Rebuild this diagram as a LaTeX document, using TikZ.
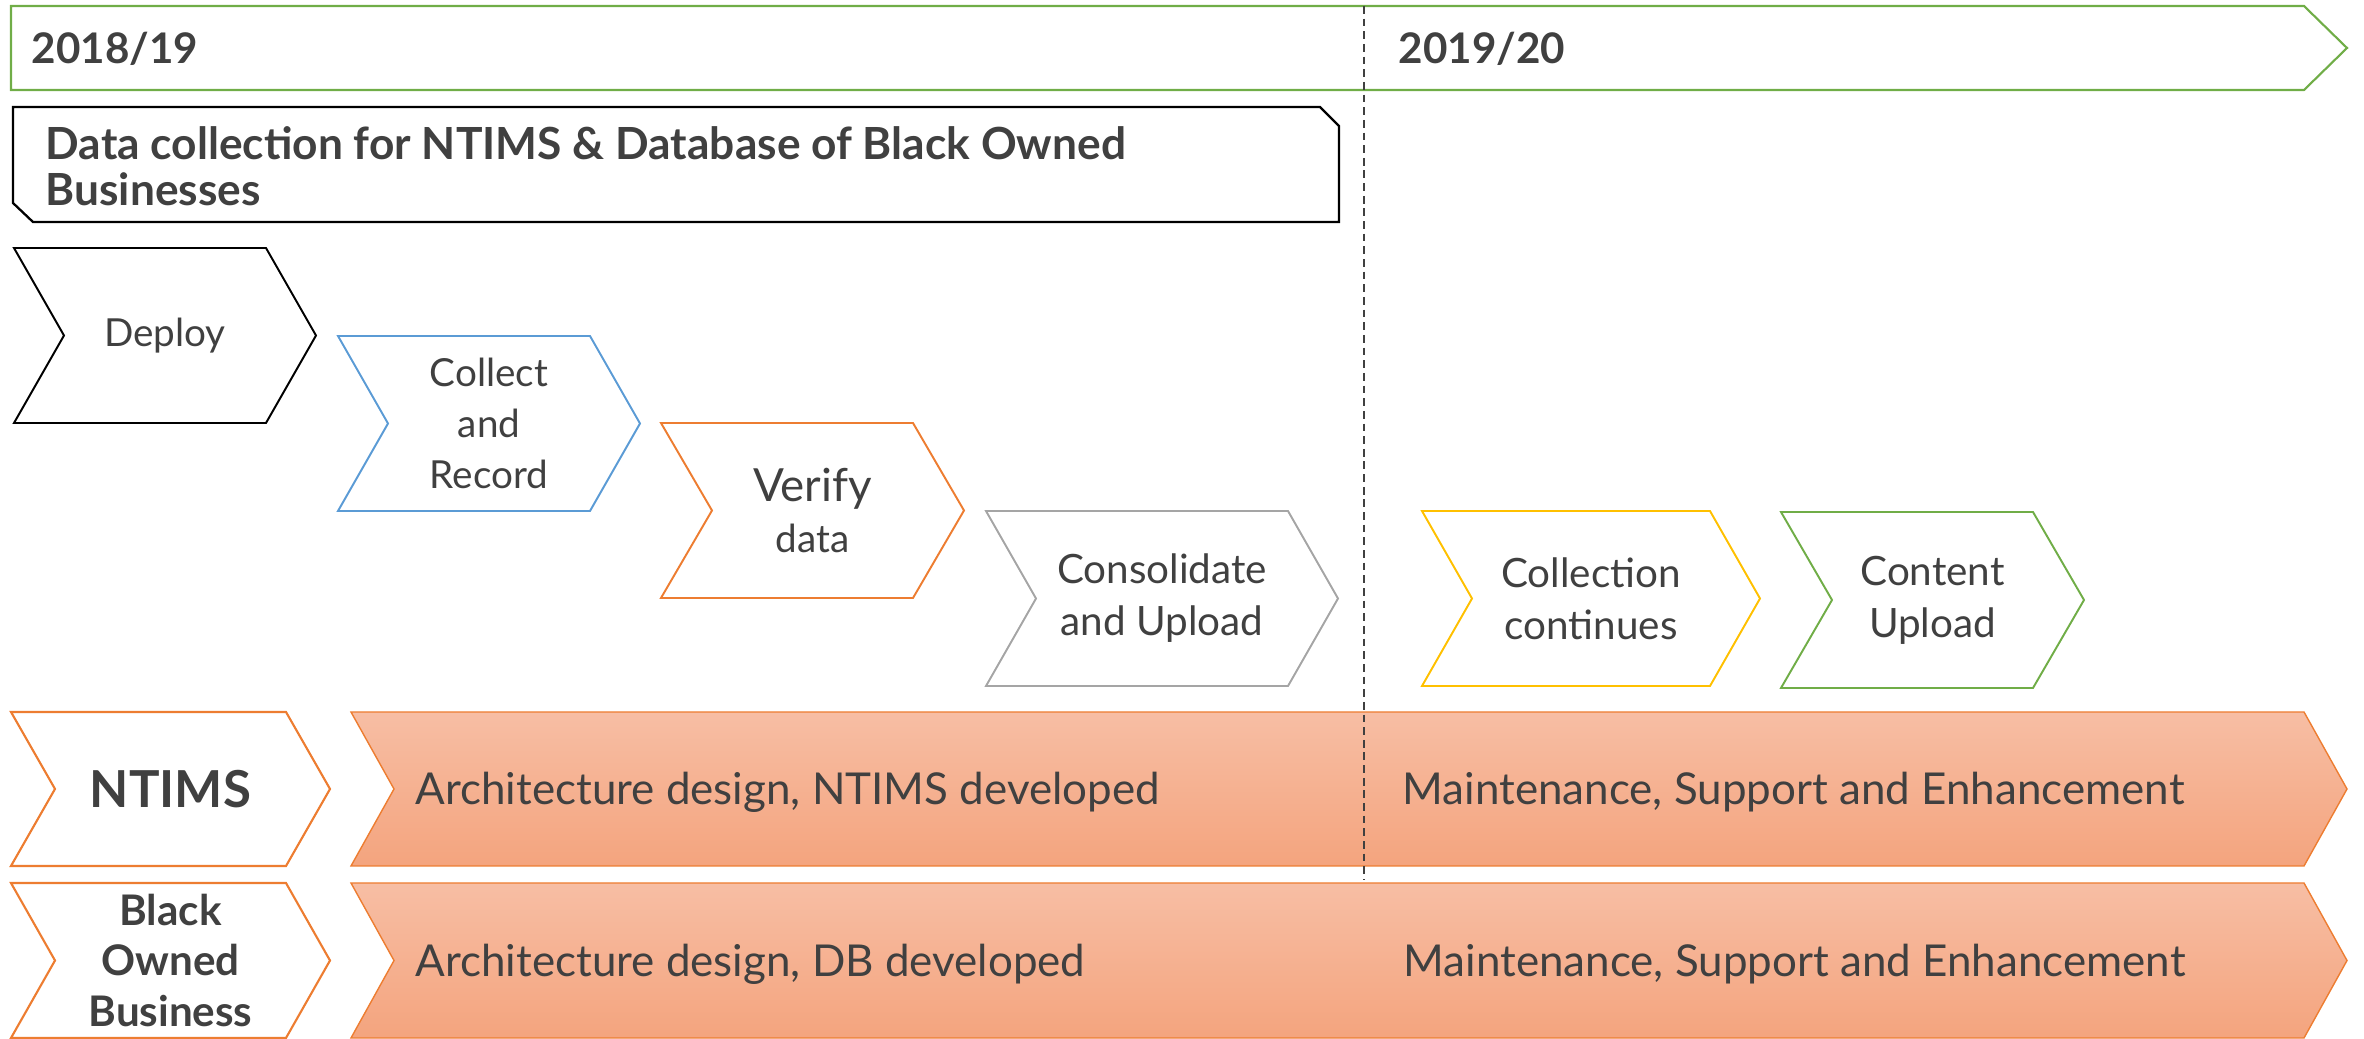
\documentclass[tikz,border=0pt]{standalone}
\usepackage{fontspec}
\setmainfont{Lato}
\usepackage{tikz}

\definecolor{txtgray}{HTML}{404040}
\definecolor{stepblue}{HTML}{5B9BD5}
\definecolor{steporange}{HTML}{ED7D31}
\definecolor{stepgray}{HTML}{A5A5A5}
\definecolor{stepgold}{HTML}{FFC000}
\definecolor{stepgreen}{HTML}{70AD47}
\definecolor{bandtop}{HTML}{F7BEA4}
\definecolor{bandbot}{HTML}{F4A47E}

% chevron: [draw opts]{name}{left}{top}{tip}{bottom}{depth}{node opts}{text}
\newcommand{\chevron}[9][]{%
  \draw[#1] (#3,#4) -- ({#5-#7},#4) -- (#5,{(#4+#6)/2}) -- ({#5-#7},#6)
    -- (#3,#6) -- ({#3+#7},{(#4+#6)/2}) -- cycle;
  \node[#8] (#2) at ({(#3+#5)/2},{(#4+#6)/2}) {#9};
}

\begin{document}
\begin{tikzpicture}[x=0.1mm,y=-0.1mm,line join=miter,
    steptext/.style={font=\fontsize{11}{14.5}\selectfont,align=center,text=txtgray},
    bigtext/.style={font=\fontsize{11.5}{14.8}\selectfont,align=center,text=txtgray},
    bandtext/.style={font=\fontsize{12.5}{15}\selectfont,text=txtgray,anchor=base west,inner sep=0pt},
    headtext/.style={font=\bfseries\fontsize{12}{15}\selectfont,text=txtgray,anchor=base west,inner sep=0pt},
    band/.style={draw=steporange,line width=0.4pt,top color=bandtop,bottom color=bandbot},
    rowhead/.style={draw=steporange,line width=0.6pt,fill=white},
    divider/.style={draw=black!75,line width=0.4pt,dash pattern=on 2.2pt off 1.4pt}]
\useasboundingbox (0,0) rectangle (2364,1039);

% year banner
\draw[stepgreen,line width=0.6pt] (11,6) -- (2304,6) -- (2347,48) -- (2304,90) -- (11,90) -- cycle;
\node[headtext] (yearA) at (31,64) {2018/19};
\node[headtext] (yearB) at (1398,64) {2019/20};

% data collection box
\draw[black,line width=0.65pt] (13,107) -- (1320,107) -- (1339,126) -- (1339,222)
  -- (33,222) -- (13,203) -- cycle;
\node[font=\bfseries\fontsize{12.6}{13.1}\selectfont,text=txtgray,align=left,anchor=west,inner sep=0pt]
  (datacoll) at (45,166) {Data collection for NTIMS \& Database of Black Owned\\Businesses};

% steps
\chevron[black,line width=0.55pt]{deploy}{14}{248}{316}{423}{50}{steptext}{Deploy}
\chevron[stepblue,line width=0.55pt]{collect}{338}{336}{640}{511}{50}{steptext}{Collect\\and\\Record}
\chevron[steporange,line width=0.55pt]{verify}{661}{423}{964}{598}{51}{steptext}{{\fontsize{13}{14.2}\selectfont Verify}\\data}
\chevron[stepgray,line width=0.55pt]{consolidate}{986}{511}{1338}{686}{50}{bigtext}{Consolidate\\and Upload}
\chevron[stepgold,line width=0.55pt]{continues}{1422}{511}{1760}{686}{50}{bigtext}{Collection\\continues}
\chevron[stepgreen,line width=0.55pt]{upload}{1781}{512}{2084}{688}{51}{bigtext}{Content\\Upload}

% NTIMS row
\chevron[rowhead]{ntims}{11}{712}{330}{866}{44}{font=\bfseries\fontsize{14.5}{15}\selectfont,text=txtgray}{NTIMS}
\chevron[band]{ntimsband}{351}{712}{2347}{866}{43}{inner sep=0pt}{}
\node[bandtext] (ntimsdev) at (415,805) {Architecture design, NTIMS developed};
\node[bandtext] (ntimsmnt) at (1402,805) {Maintenance, Support and Enhancement};

% black owned business row
\chevron[rowhead]{bob}{11}{883}{330}{1038}{44}{font=\bfseries\fontsize{12}{14.5}\selectfont,text=txtgray,align=center}{Black\\Owned\\Business}
\chevron[band]{bobband}{351}{883}{2347}{1038}{43}{inner sep=0pt}{}
\node[bandtext] (bobdev) at (415,977) {Architecture design, DB developed};
\node[bandtext] (bobmnt) at (1403,977) {Maintenance, Support and Enhancement};

% year divider
\coordinate (divtop) at (1364,6);
\coordinate (divbot) at (1364,880);
\draw[divider] (divtop) -- (divbot);
\end{tikzpicture}
\end{document}
